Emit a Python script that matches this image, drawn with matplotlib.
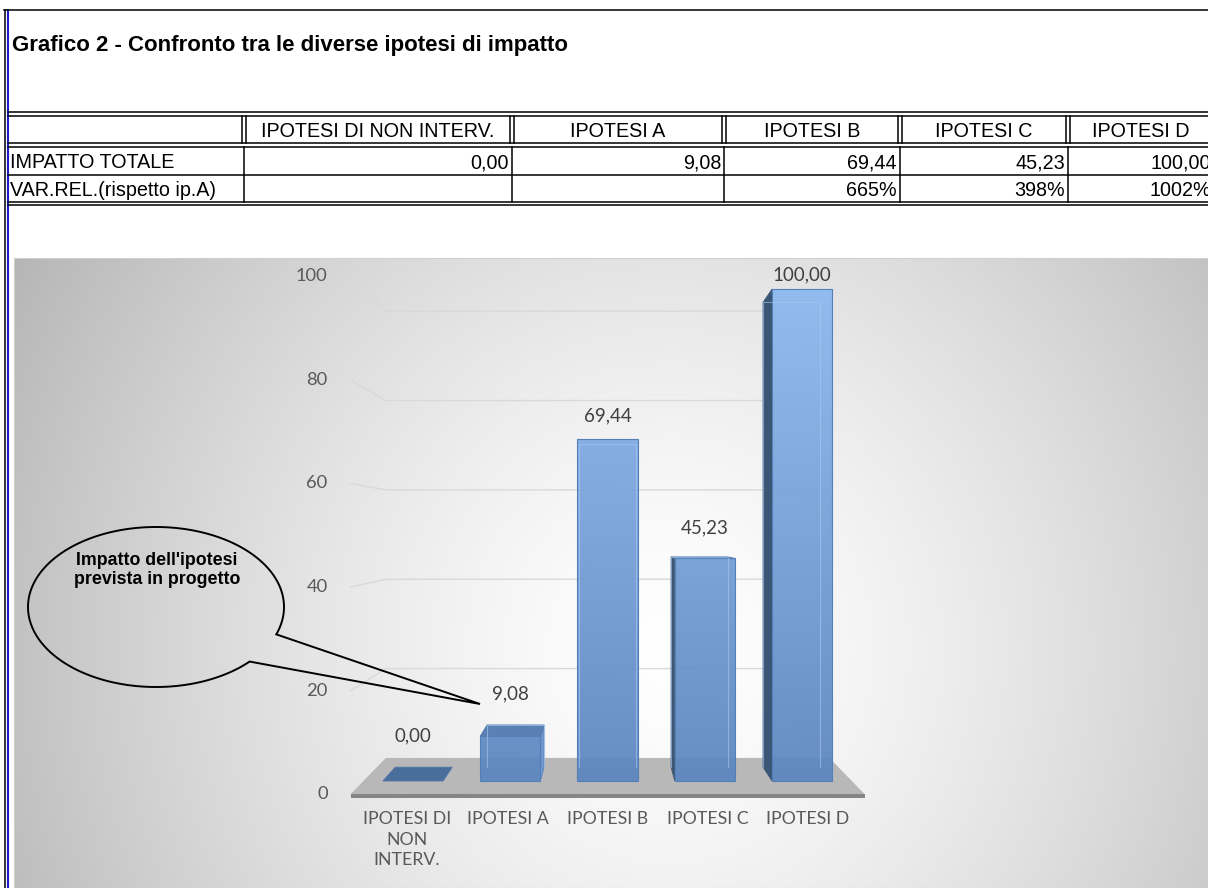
import numpy as np
import matplotlib
matplotlib.use("Agg")
import matplotlib.pyplot as plt
from matplotlib.patches import Polygon, PathPatch, Rectangle
from matplotlib.path import Path

# ---- data -------------------------------------------------------------
title = "Grafico 2 - Confronto tra le diverse ipotesi di impatto"
categories = ["IPOTESI DI\nNON\nINTERV.", "IPOTESI A", "IPOTESI B", "IPOTESI C", "IPOTESI D"]
table_headers = ["IPOTESI DI NON INTERV.", "IPOTESI A", "IPOTESI B", "IPOTESI C", "IPOTESI D"]
row_labels = ["IMPATTO TOTALE", "VAR.REL.(rispetto ip.A)"]
impatto = [0.00, 9.08, 69.44, 45.23, 100.00]
var_rel = [None, None, 665, 398, 1002]
y_ticks = [0, 20, 40, 60, 80, 100]
callout_text = "Impatto dell'ipotesi\nprevista in progetto"


def fmt(v):
    return f"{v:.2f}".replace(".", ",")


W, H = 1208, 888
fig = plt.figure(figsize=(W / 100, H / 100), dpi=100)
fig.patch.set_facecolor("white")

SANS = ["Liberation Sans", "DejaVu Sans"]
CHART_FONT = ["Lato", "DejaVu Sans"]

# ---- chart area ---------------------------------------------------------
CX0, CY0, CX1, CY1 = 14, 258, 1208, 888
ax = fig.add_axes([CX0 / W, 1 - CY1 / H, (CX1 - CX0) / W, (CY1 - CY0) / H])
# front plane: category index on x, value on y
I0_PX, PX_PER_CAT = 413, 97.3
V0_PX, PX_PER_UNIT = 781, 4.92
xlim = ((CX0 - I0_PX) / PX_PER_CAT, (CX1 - I0_PX) / PX_PER_CAT)
ylim = ((V0_PX - CY1) / PX_PER_UNIT, (V0_PX - CY0) / PX_PER_UNIT)

# radial background fill
xs = np.linspace(CX0, CX1, 600)
ys = np.linspace(CY0, CY1, 320)
X, Y = np.meshgrid(xs, ys)
r = np.hypot((X - 670) / 1.0, (Y - 650) / 1.05) / 720
g = 1 - 0.27 * np.clip(r, 0, 1.3) ** 1.4
ax.imshow(np.dstack([g, g, g]), extent=(xlim[0], xlim[1], ylim[0], ylim[1]),
          origin="upper", aspect="auto", zorder=0)
ax.set_xlim(*xlim)
ax.set_ylim(*ylim)
ax.set_xticks([])
ax.set_yticks([])
for s in ax.spines.values():
    s.set_color("#d0d0d0")
    s.set_linewidth(0.8)

# perspective projection toward a vanishing point
VP = (2.0, 51.0)
F_FRONT, F_BACK, BAR_BACK = 1.052, 0.908, 0.945
FLOOR_L, FLOOR_R = -0.51, 4.51
BW = 0.62


def proj(i, v, f):
    return VP[0] + (i - VP[0]) * f, VP[1] + (v - VP[1]) * f


# walls: side-wall connectors + back-wall gridlines
for v in y_ticks[1:]:
    c = proj(FLOOR_L, v, F_FRONT)
    a = proj(FLOOR_L, v, F_BACK)
    b = proj(FLOOR_R, v, F_BACK)
    ax.plot([c[0], a[0], b[0]], [c[1], a[1], b[1]], color="#d9d9d9", lw=1.0, zorder=1)

# floor
floor_top = [proj(FLOOR_L, 0, F_FRONT), proj(FLOOR_R, 0, F_FRONT),
             proj(FLOOR_R, 0, F_BACK), proj(FLOOR_L, 0, F_BACK)]
ax.add_patch(Polygon(floor_top, closed=True, facecolor="#b8b8b8", edgecolor="none", zorder=2))
floor_front = [proj(FLOOR_L, 0, F_FRONT), proj(FLOOR_R, 0, F_FRONT),
               proj(FLOOR_R, -0.75, F_FRONT), proj(FLOOR_L, -0.75, F_FRONT)]
ax.add_patch(Polygon(floor_front, closed=True, facecolor="#858585", edgecolor="none", zorder=2))

# y tick labels on the side wall
for v in y_ticks:
    ax.annotate(f"{v}", xy=proj(FLOOR_L, v, F_FRONT), xytext=(-23, 0),
                textcoords="offset pixels", ha="right", va="center",
                fontsize=13.2, color="#595959", family=CHART_FONT, zorder=3)

# bars
c_bot = np.array([0x5b, 0x86, 0xbf]) / 255
c_top = np.array([0x8c, 0xb8, 0xef]) / 255
for i, v in enumerate(impatto):
    L, R = i - BW / 2, i + BW / 2
    if L > VP[0] and v > 0:
        side = [proj(L, 0, 1), proj(L, v, 1), proj(L, v, BAR_BACK), proj(L, 0, BAR_BACK)]
        ax.add_patch(Polygon(side, closed=True, facecolor="#3b5674", edgecolor="#3b5674",
                             lw=0.5, zorder=4))
    if R < VP[0] and v > 0:
        side = [proj(R, 0, 1), proj(R, v, 1), proj(R, v, BAR_BACK), proj(R, 0, BAR_BACK)]
        ax.add_patch(Polygon(side, closed=True, facecolor="#6f97cc", edgecolor="#5b82b8",
                             lw=0.5, zorder=4))
    if v < VP[1]:
        top = [proj(L, v, 1), proj(R, v, 1), proj(R, v, BAR_BACK), proj(L, v, BAR_BACK)]
        topc = "#4a6e9c" if v == 0 else "#5a80b4"
        ax.add_patch(Polygon(top, closed=True, facecolor=topc, edgecolor="#4f76aa",
                             lw=0.6, zorder=4))
    if v > 0:
        n = 200
        t = np.linspace(0, v / 100, n)[:, None]
        col = c_bot[None, :] + (c_top - c_bot)[None, :] * t
        img = np.repeat(col[:, None, :], 2, axis=1)
        ax.imshow(img, extent=(L, R, 0, v), origin="lower", aspect="auto",
                  alpha=0.93, zorder=5)
        ax.add_patch(Rectangle((L, 0), BW, v, facecolor="none", edgecolor="#5480b9",
                               lw=0.8, zorder=6))
        # back edges seen through the translucent front
        bk = [proj(L, 0, BAR_BACK), proj(L, v, BAR_BACK), proj(R, v, BAR_BACK),
              proj(R, 0, BAR_BACK)]
        ax.plot([p[0] for p in bk], [p[1] for p in bk], color="#a9c9f0", lw=0.8,
                alpha=0.6, zorder=6)

ax.set_xlim(*xlim)
ax.set_ylim(*ylim)

# data labels
for i, v in enumerate(impatto):
    ax.annotate(fmt(v), xy=(i, VP[1] + (v - VP[1]) * 0.937), xytext=(0, 29),
                textcoords="offset pixels", ha="center", va="center",
                fontsize=13.5, color="#404040", family=CHART_FONT, zorder=7)

# category labels
for i, c in enumerate(categories):
    x = proj(i, 0, 1.03)[0]
    y = proj(i, 0, F_FRONT)[1]
    ax.annotate(c, xy=(x, y), xytext=(0, -17), textcoords="offset pixels",
                ha="center", va="top", multialignment="center", linespacing=1.35,
                fontsize=12.8, color="#595959", family=CHART_FONT, zorder=7)

# ---- sheet overlay: borders, table, callout ---------------------------
ov = fig.add_axes([0, 0, 1, 1], facecolor="none")
ov.set_zorder(5)
ov.set_xlim(0, W)
ov.set_ylim(H, 0)
ov.axis("off")

ov.plot([4.5, 4.5], [10, H], color="black", lw=1.1)
ov.plot([7.5, 7.5], [10, H], color="#1c1cc8", lw=1.5)
ov.plot([4, W], [10, 10], color="black", lw=1.1)

ov.text(12, 45, title, ha="left", va="center", fontsize=16, fontweight="bold",
        family=SANS, color="black")

bounds = [8, 244, 512, 724, 900, 1068, 1214]
LW = 1.1
for y in (112.5, 116, 143.5, 147, 175, 202, 205.5):
    ov.plot([8, W], [y, y], color="black", lw=LW)
for x in bounds[1:]:
    ov.plot([x - 1.7, x - 1.7], [116, 143.5], color="black", lw=LW)
    ov.plot([x + 1.7, x + 1.7], [116, 143.5], color="black", lw=LW)
    ov.plot([x, x], [147, 202], color="black", lw=LW)

TFS = 14.2
for k, h in enumerate(table_headers):
    ov.text((bounds[k + 1] + bounds[k + 2]) / 2, 131.5, h, ha="center", va="center",
            fontsize=TFS, family=SANS)
ov.text(10, 163, row_labels[0], ha="left", va="center", fontsize=TFS, family=SANS)
ov.text(10, 190, row_labels[1], ha="left", va="center", fontsize=TFS, family=SANS)
for k, v in enumerate(impatto):
    ov.text(bounds[k + 2] - 3, 163, fmt(v), ha="right", va="center",
            fontsize=TFS, family=SANS)
for k, v in enumerate(var_rel):
    if v is not None:
        ov.text(bounds[k + 2] - 3, 190, f"{v}%", ha="right", va="center",
                fontsize=TFS, family=SANS)

# speech-bubble callout
cx, cy, a, b = 156, 607, 128, 80
t1, t2 = np.deg2rad(20), np.deg2rad(43)
ts = np.linspace(t2, t1 + 2 * np.pi, 300)
pts = [(cx + a * np.cos(t), cy + b * np.sin(t)) for t in ts]
pts.append((480, 704))
pts.append(pts[0])
codes = [Path.MOVETO] + [Path.LINETO] * (len(pts) - 2) + [Path.CLOSEPOLY]
ov.add_patch(PathPatch(Path(pts, codes), facecolor="none", edgecolor="black", lw=1.4))
ov.text(157, 570, callout_text, ha="center", va="center", fontsize=12.8,
        fontweight="bold", family=SANS, linespacing=1.2)

fig.savefig("out.png", dpi=100)
